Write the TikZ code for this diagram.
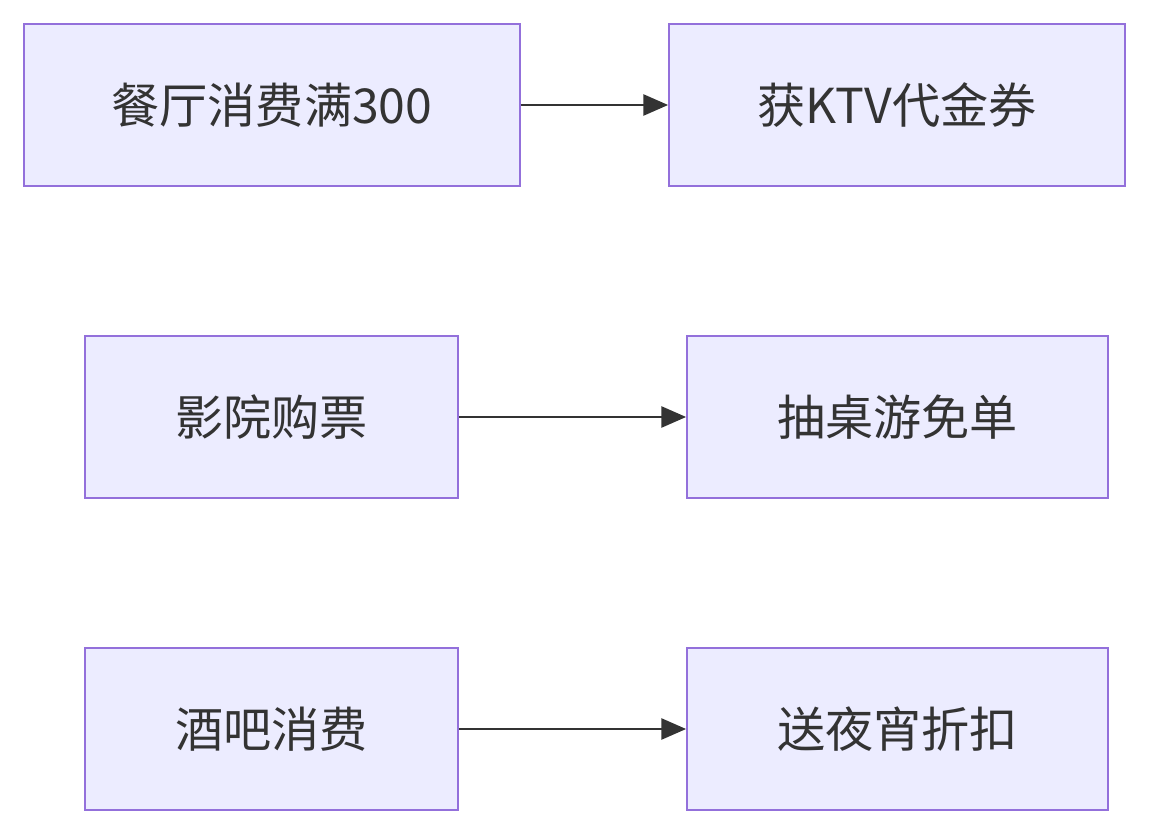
\documentclass[tikz,border=0pt]{standalone}
\usepackage{fontspec}
\setmainfont{Noto Sans CJK SC}
\usepackage{tikz}
\usetikzlibrary{arrows.meta}
\usepackage{xcolor}
\definecolor{mmfill}{RGB}{236,236,255}
\definecolor{mmline}{RGB}{147,112,219}
\definecolor{mmtext}{RGB}{51,51,51}
\tikzstyle{arrow} = [line width=1.1pt,-{Triangle[length=14pt,width=12pt]},color=mmtext]
\tikzstyle{promo} = [rectangle, inner sep=0pt, minimum height=3.24cm, text centered, draw=mmline, fill=mmfill, line width=1.1pt, text=mmtext, font=\fontsize{27.4}{32}\selectfont]

\begin{document}
\begin{tikzpicture}[x=0.02cm, y=-0.02cm]
\useasboundingbox (0,0) rectangle (1149,834);
\node (rest) [promo, minimum width=9.92cm] at (272,105) {餐厅消费满300};
\node (ktv) [promo, minimum width=9.12cm] at (897,105) {获KTV代金券};

\node (cinema) [promo, minimum width=7.46cm] at (271.5,417) {影院购票};
\node (board) [promo, minimum width=8.42cm] at (897.5,417) {抽桌游免单};

\node (bar) [promo, minimum width=7.46cm] at (271.5,729) {酒吧消费};
\node (snack) [promo, minimum width=8.42cm] at (897.5,729) {送夜宵折扣};

\draw[arrow] (rest) -- (ktv);
\draw[arrow] (cinema) -- (board);
\draw[arrow] (bar) -- (snack);
\end{tikzpicture}
\end{document}
